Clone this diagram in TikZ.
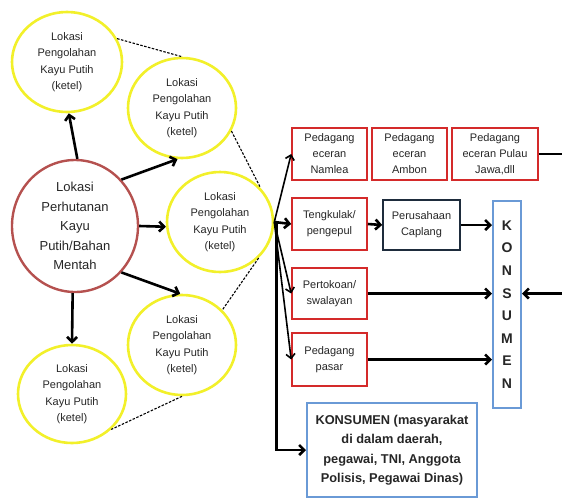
\documentclass[tikz,border=0pt]{standalone}
\usepackage{fontspec}
\setmainfont{Liberation Sans}
\usetikzlibrary{shapes.geometric,arrows.meta,calc}
\definecolor{yel}{HTML}{F2F02A}
\definecolor{brick}{HTML}{B5514F}
\definecolor{boxred}{HTML}{D42A2A}
\definecolor{navy}{HTML}{1E2C3C}
\definecolor{bblue}{HTML}{6A9AD6}
\definecolor{txt}{HTML}{262626}
\tikzset{
  ketel/.style={ellipse,draw=yel,line width=2.6pt,minimum width=108pt,minimum height=100pt,
    inner sep=0pt,align=center,font=\fontsize{11}{16.5}\selectfont,text=txt},
  hutan/.style={ellipse,draw=brick,line width=2.4pt,minimum width=126pt,minimum height=132pt,
    inner sep=0pt,align=center,font=\fontsize{13}{19.5}\selectfont,text=txt},
  redbox/.style={draw=boxred,line width=1.6pt,minimum width=75pt,minimum height=52pt,
    inner sep=0pt,align=center,font=\fontsize{11}{16}\selectfont,text=txt},
  navybox/.style={redbox,draw=navy},
  bluebox/.style={draw=bblue,line width=2pt,inner sep=0pt,align=center,text=txt},
  bigarrow/.style={line width=2.6pt,-{Straight Barb[length=5pt,width=10pt]}},
  fanarrow/.style={line width=1.6pt,-{Straight Barb[length=4.5pt,width=9pt]}},
  plainline/.style={line width=2.6pt},
  dashline/.style={line width=1.1pt,dash pattern=on 2.5pt off 1.5pt}
}
\begin{document}
\begin{tikzpicture}[x=1pt,y=-1pt]
\useasboundingbox (0,0) rectangle (562,499);
% circles
\node[ketel,minimum width=110pt] (c1) at (67,62) {Lokasi\\Pengolahan\\Kayu Putih\\(ketel)};
\node[ketel] (c2) at (182,108) {Lokasi\\Pengolahan\\Kayu Putih\\(ketel)};
\node[ketel,minimum width=106pt] (c3) at (220,222) {Lokasi\\Pengolahan\\Kayu Putih\\(ketel)};
\node[ketel] (c4) at (182,345) {Lokasi\\Pengolahan\\Kayu Putih\\(ketel)};
\node[ketel,minimum height=98pt] (c5) at (72,394) {Lokasi\\Pengolahan\\Kayu Putih\\(ketel)};
\node[hutan] (big) at (75,226) {Lokasi\\Perhutanan\\Kayu\\Putih/Bahan\\Mentah};
% arrows from source
\draw[bigarrow] (big.88) -- (c1.272);
\draw[bigarrow] (big.45) -- (c2.265);
\draw[bigarrow] (big.east) -- (c3.185);
\draw[bigarrow] (big.-45) -- (c4.92);
\draw[bigarrow] (big.268) -- (c5.90);
% dashed outline
\draw[dashline] (c1.25) -- (c2.north);
\draw[dashline] (c2.-25) -- (c3.40);
\draw[dashline] (c3.-43) -- (c4.41);
\draw[dashline] (c4.south) -- (c5.-42);
% boxes
\node[redbox] (namlea) at (329.5,154) {Pedagang\\eceran\\Namlea};
\node[redbox] (ambon) at (409.5,154) {Pedagang\\eceran\\Ambon};
\node[redbox,minimum width=86pt] (jawa) at (495,154) {Pedagang\\eceran Pulau\\Jawa,dll};
\node[redbox] (tengkulak) at (329.5,224) {Tengkulak/\\pengepul};
\node[navybox,minimum width=77pt,minimum height=50pt] (caplang) at (421.5,225) {Perusahaan\\Caplang};
\node[redbox,minimum height=51pt] (pertokoan) at (329.5,293.5) {Pertokoan/\\swalayan};
\node[redbox,minimum height=53pt] (pasar) at (329.5,359.5) {Pedagang\\pasar};
\node[bluebox,minimum width=28pt,minimum height=207pt,font=\fontsize{14}{22.6}\bfseries\selectfont] (konsv) at (507,304.5) {K\\O\\N\\S\\U\\M\\E\\N};
\node[bluebox,minimum width=170pt,minimum height=94pt,font=\fontsize{12.8}{19.5}\bfseries\selectfont] (konsbig) at (392,450) {KONSUMEN (masyarakat\\di dalam daerah,\\pegawai, TNI, Anggota\\Polisis, Pegawai Dinas)};
% fan from c3
\coordinate (fan) at (c3.east);
\coordinate (fanv) at ($(c3.east)+(2,0)$);
\draw[fanarrow] (fan) -- (namlea.west);
\draw[bigarrow] (fan) -- (tengkulak.west);
\draw[fanarrow] (fan) -- (pertokoan.west);
\draw[fanarrow] (fan) -- (pasar.west);
\draw[bigarrow] (fanv) -- (fanv |- konsbig.west) -- (konsbig.west);
% right side
\draw[bigarrow] (tengkulak.east) -- (caplang.west);
\draw[bigarrow] (caplang.east) -- (caplang.east -| konsv.west);
\draw[bigarrow] (pertokoan.east) -- (pertokoan.east -| konsv.west);
\draw[bigarrow] (pasar.east) -- (pasar.east -| konsv.west);
\coordinate (edgetop) at (562,154);
\coordinate (edgein) at (562,293.5);
\draw[plainline] (jawa.east) -- (edgetop);
\draw[bigarrow] (edgein) -- (edgein -| konsv.east);
\end{tikzpicture}
\end{document}
